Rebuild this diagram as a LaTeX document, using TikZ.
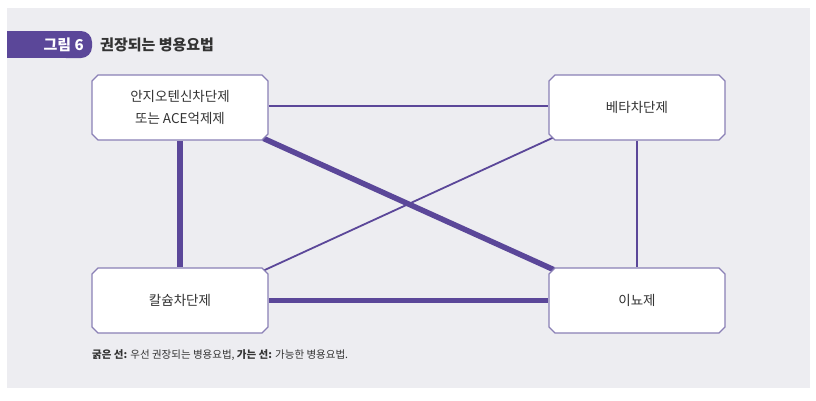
\documentclass[tikz,border=0pt]{standalone}
\usepackage{fontspec}
\setmainfont{Noto Sans CJK KR}
\usetikzlibrary{shapes.misc,backgrounds}
\definecolor{panel}{HTML}{EDEDF1}
\definecolor{purp}{HTML}{5B4799}
\definecolor{bord}{HTML}{8A80B6}
\definecolor{txt}{HTML}{333333}
\tikzset{
  drugbox/.style={chamfered rectangle, chamfered rectangle xsep=3pt, chamfered rectangle ysep=3pt,
    draw=bord, line width=1.1pt, fill=white, minimum width=176pt, minimum height=65pt,
    inner sep=0pt, text=txt, font=\fontsize{13.5}{22}\selectfont, align=center},
  thick link/.style={draw=purp, line width=5.5pt},
  thin link/.style={draw=purp, line width=1.8pt},
}
\begin{document}
\begin{tikzpicture}[x=1pt,y=-1pt]
\useasboundingbox (0,0) rectangle (816,400);
% boxes
\node[drugbox] (A) at (180,107.5) {안지오텐신차단제\\또는 ACE억제제};
\node[drugbox] (B) at (637,107.5) {베타차단제};
\node[drugbox] (C) at (180,300.5) {칼슘차단제};
\node[drugbox] (D) at (637,300.5) {이뇨제};
\begin{scope}[on background layer]
\fill[white] (0,0) rectangle (816,400);
\fill[panel] (7,8) rectangle (810,388);
\draw[thin link] ([yshift=1.5pt]A.east) -- ([yshift=1.5pt]B.west);
\draw[thin link] (B.south) -- (D.north);
\draw[thick link] (A.south) -- (C.north);
\draw[thick link] (C.east) -- (D.west);
\draw[thick link] ([xshift=-2pt,yshift=-1pt]A.south east) -- ([xshift=2pt,yshift=1pt]D.north west);
\draw[thin link] ([xshift=2pt]B.south west) -- ([xshift=-2pt]C.north east);
\end{scope}
% title tab
\fill[purp] (7,31) rectangle (75,58);
\fill[purp, rounded corners=11pt] (55,31) rectangle (92,58);
\node[anchor=east, text=white, font=\fontsize{15}{18}\bfseries\selectfont, inner sep=0pt] (tab) at (84,44.5) {그림 6};
\node[anchor=west, text=txt, font=\fontsize{15}{18}\bfseries\selectfont, inner sep=0pt] (title) at (100,44.5) {권장되는 병용요법};
\node[anchor=west, text=txt, font=\fontsize{10.5}{13}\selectfont, inner sep=0pt] (cap) at (92,355) {\textbf{굵은 선:} 우선 권장되는 병용요법, \textbf{가는 선:} 가능한 병용요법.};
\end{tikzpicture}
\end{document}
